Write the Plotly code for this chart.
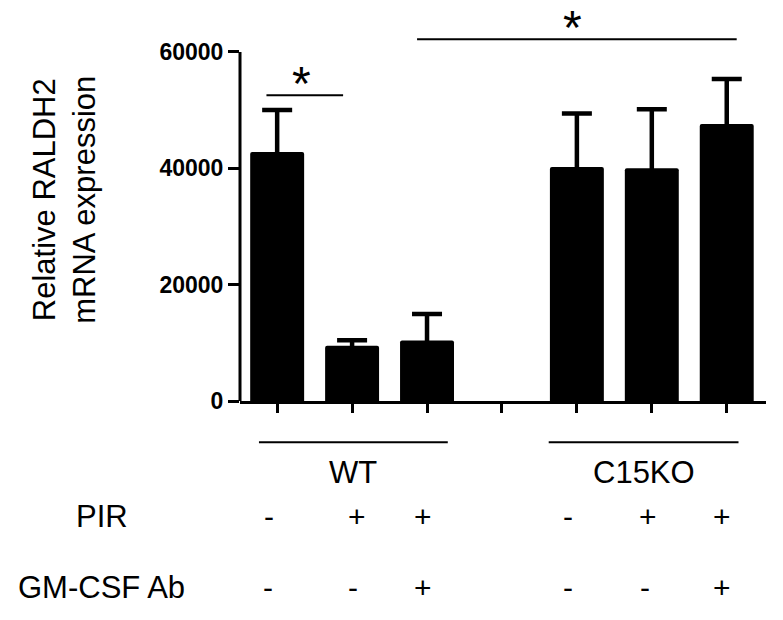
import plotly.graph_objects as go

# ---- data ----
bar_pos = [0, 1, 2, 4, 5, 6]          # category slots (slot 3 is the gap)
genotype = ["WT", "WT", "WT", "C15KO", "C15KO", "C15KO"]
pir = ["-", "+", "+", "-", "+", "+"]
gmcsf_ab = ["-", "-", "+", "-", "-", "+"]
mean_expr = [42800, 9500, 10400, 40200, 40000, 47600]
sem_expr = [7200, 930, 4550, 9200, 10150, 7750]
y_ticks = [0, 20000, 40000, 60000]

FONT = "Liberation Sans, Arial, sans-serif"
SHOE_DEPTH = 900   # keep the lower cap of the error bar hidden inside the bar

fig = go.Figure()
fig.add_trace(go.Bar(
    x=bar_pos, y=mean_expr, width=0.72,
    marker=dict(color="black", line=dict(width=0), cornerradius=2),
    error_y=dict(type="data", symmetric=False, array=sem_expr,
                 arrayminus=[SHOE_DEPTH] * len(sem_expr), color="black",
                 thickness=4.5, width=15),
    showlegend=False, hoverinfo="skip",
))

shapes = []
annotations = []

# y axis line only up to 60000
shapes.append(dict(type="line", xref="paper", yref="y", x0=0, x1=0,
                   y0=0, y1=max(y_ticks), line=dict(color="black", width=3)))

# significance brackets
sig = [(-0.143, 0.88, 52542, 0.32, 55687), (1.867, 6.133, 62167, 3.947, 65260)]
for x0, x1, yl, xs, ys in sig:
    shapes.append(dict(type="line", xref="x", yref="y", x0=x0, x1=x1, y0=yl, y1=yl,
                       line=dict(color="black", width=2)))
    annotations.append(dict(x=xs, y=ys, xref="x", yref="y", text="*", showarrow=False,
                            font=dict(family=FONT, size=48, color="black"),
                            xanchor="center", yanchor="middle", yshift=-6))

# genotype group lines + labels (line extents in x-axis units)
group_span = {"WT": (-0.243, 2.277), "C15KO": (3.624, 6.157)}
for g in dict.fromkeys(genotype):
    x0, x1 = group_span[g]
    shapes.append(dict(type="line", xref="x", yref="paper", x0=x0, x1=x1,
                       y0=-0.1076, y1=-0.1076, line=dict(color="black", width=2)))
    annotations.append(dict(x=(x0 + x1) / 2, y=-0.1867, xref="x", yref="paper", text=g,
                            showarrow=False, font=dict(family=FONT, size=31, color="black"),
                            xanchor="center", yanchor="middle"))

# treatment rows
rows = [("PIR", pir, -0.3000, [-8, 5, -4, -9, -4, -5]),
        ("GM-CSF Ab", gmcsf_ab, -0.4850, [-9, 1, -4, -9, -7, -5])]
for label, signs, yrow, shifts in rows:
    annotations.append(dict(x=-0.2630, y=yrow, xref="paper", yref="paper", text=label,
                            showarrow=False, font=dict(family=FONT, size=31, color="black"),
                            xanchor="center", yanchor="middle"))
    for p, s, sh in zip(bar_pos, signs, shifts):
        annotations.append(dict(x=p, y=yrow, xref="x", yref="paper", text=s,
                                showarrow=False, xshift=sh,
                                font=dict(family=FONT, size=30, color="black"),
                                xanchor="center", yanchor="middle"))

# y-axis title
annotations.append(dict(x=-0.3350, y=0.5234, xref="paper", yref="paper",
                        text="Relative RALDH2<br>mRNA expression", textangle=-90,
                        showarrow=False, font=dict(family=FONT, size=31, color="black"),
                        xanchor="center", yanchor="middle"))

fig.update_layout(
    width=783, height=620,
    margin=dict(l=240, r=17, t=17, b=219),
    paper_bgcolor="white", plot_bgcolor="white",
    shapes=shapes, annotations=annotations,
    xaxis=dict(range=[-0.496, 6.524], tickvals=[0, 1, 2, 3, 4, 5, 6], ticktext=[""] * 7,
               ticks="outside", ticklen=9, tickwidth=3, tickcolor="black",
               showline=True, linewidth=3, linecolor="black",
               showgrid=False, zeroline=False, fixedrange=True),
    yaxis=dict(range=[0, 66000], tickvals=y_ticks, ticktext=[str(v) for v in y_ticks],
               ticks="outside", ticklen=11, tickwidth=3, tickcolor="black",
               tickfont=dict(family=FONT, size=23, color="black", weight="bold"),
               showline=False, showgrid=False, zeroline=False, fixedrange=True),
)

fig.write_html("out.html", config={"displayModeBar": False},
               post_script="document.body.style.margin='0';")
